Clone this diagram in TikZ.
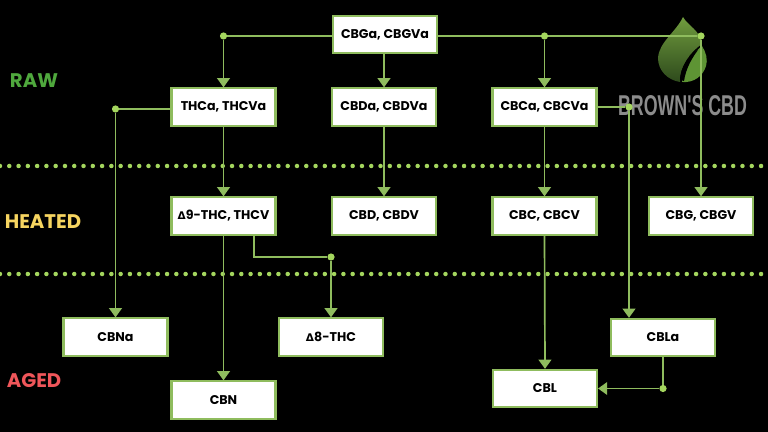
\documentclass[tikz,border=0pt]{standalone}
\usepackage{fontspec}
\setmainfont{Poppins}
\newfontfamily\deltafont{DejaVu Sans}
\newfontfamily\logofont{Liberation Sans}
\usepackage{tikz}
\usetikzlibrary{calc,positioning,arrows.meta}
\definecolor{linkgreen}{HTML}{8FBC5E}
\definecolor{dotgreen}{HTML}{A4D65E}
\definecolor{rawgreen}{HTML}{4FA83D}
\definecolor{heatyellow}{HTML}{F7D560}
\definecolor{agedred}{HTML}{F0565A}
\definecolor{leaftop}{HTML}{709C3E}
\definecolor{leafbottom}{HTML}{2E4A1C}
\definecolor{leafside}{HTML}{5E9434}
\tikzstyle{box}       = [draw=linkgreen, line width=1.5pt, fill=white, text=black, minimum width=2.6cm, minimum height=0.93cm, inner sep=0pt, font=\fontsize{9}{11}\selectfont\bfseries]
\tikzstyle{link}      = [draw=linkgreen, line width=1.2pt]
\tikzstyle{arrow}     = [link, -{Triangle[width=9pt,length=6.5pt]}]
\tikzstyle{dot}       = [circle, fill=dotgreen, inner sep=0pt, minimum size=0.18cm]
\tikzstyle{band}      = [draw=dotgreen, line width=3.2pt, line cap=round, dash pattern=on 0pt off 6.6pt]
\tikzstyle{stage}     = [font=\fontsize{14}{17}\selectfont\bfseries]
\newcommand{\dlt}{{\deltafont\fontsize{7.5}{8}\selectfont Δ}}

\begin{document}
\begin{tikzpicture}[x=0.025cm,y=-0.025cm]
	\fill[black] (0,0) rectangle (768,432);
	\useasboundingbox (0,0) rectangle (768,432);

	% logo, under the connectors
	\fill[top color=leaftop, bottom color=leafbottom]
		(683,17) .. controls (688,26) and (700,30) .. (702,44)
		.. controls (690,52) and (680,66) .. (680,82)
		.. controls (667,80) and (658,70) .. (658,58)
		.. controls (659,42) and (676,32) .. (683,17) -- cycle;
	\fill[leafside]
		(702,46) .. controls (706,52) and (708,60) .. (706,66)
		.. controls (703,76) and (694,83) .. (682,82)
		.. controls (683,66) and (692,54) .. (702,46) -- cycle;
	\fill[black] (680,80) .. controls (680,68) and (688,56) .. (698,50)
		.. controls (692,58) and (686,68) .. (684,81) -- cycle;
	\node (logotext) at (682.5,106) {\resizebox{3.22cm}{0.5cm}{\logofont\bfseries\textcolor[HTML]{8C8C8C}{BROWN'S CBD}}};

	% stage separators
	\coordinate (bandonea) at (0,166);
	\coordinate (bandoneb) at (768,166);
	\coordinate (bandtwoa) at (0,274);
	\coordinate (bandtwob) at (768,274);
	\draw[band] (bandonea) -- (bandoneb);
	\draw[band] (bandtwoa) -- (bandtwob);

	\node[stage, text=rawgreen] (raw) at (34,81) {RAW};
	\node[stage, text=heatyellow] (heated) at (43,222) {HEATED};
	\node[stage, text=agedred] (aged) at (34,381) {AGED};

	\node[box] (cbga) at (385,34.5) {CBGa, CBGVa};

	\node[box] (thca) at (223.5,107) {THCa, THCVa};
	\node[box] (cbda) at (384,107) {CBDa, CBDVa};
	\node[box] (cbca) at (544.5,107) {CBCa, CBCVa};

	\node[box] (thc) at (223.5,216) {\dlt 9-THC, THCV};
	\node[box] (cbd) at (384,216) {CBD, CBDV};
	\node[box] (cbc) at (544.5,216) {CBC, CBCV};
	\node[box] (cbg) at (701,216) {CBG, CBGV};

	\node[box] (cbna) at (115.5,337) {CBNa};
	\node[box] (delta) at (331,337) {\dlt 8-THC};
	\node[box] (cbla) at (663,337.5) {CBLa};
	\node[box] (cbn) at (223.5,400) {CBN};
	\node[box] (cbl) at (545,388.5) {CBL};

	\node[dot] (dotthc) at (223.5,36) {};
	\node[dot] (dotcbc) at (544.5,36) {};
	\node[dot] (dotcbg) at (701,36) {};
	\node[dot] (dotcbn) at (115.5,109) {};
	\node[dot] (dotcbl) at (629,107) {};
	\node[dot] (dotdelta) at (331,257) {};
	\node[dot] (dotback) at (663,388.5) {};
	\coordinate (elbow) at (254,257);
	\coordinate (thcfoot) at (254,216);

	\draw[link] (cbga.west |- dotthc) -- (dotthc);
	\draw[link] (cbga.east |- dotcbc) -- (dotcbc);
	\draw[link] (dotcbc) -- (dotcbg);
	\draw[link] (thca.west |- dotcbn) -- (dotcbn);
	\draw[link] (cbca.east) -- (dotcbl);
	\draw[link] (thcfoot |- thc.south) -- (elbow) -- (dotdelta);
	\draw[link] (cbla.south) -- (dotback);

	\draw[arrow] (dotthc) -- (thca.north);
	\draw[arrow] (cbga.south -| cbda.north) -- (cbda.north);
	\draw[arrow] (dotcbc) -- (cbca.north);
	\draw[arrow] (dotcbg) -- (cbg.north);
	\draw[arrow] (dotcbn) -- (cbna.north);
	\draw[arrow] (thca.south) -- (thc.north);
	\draw[arrow] (cbda.south) -- (cbd.north);
	\draw[arrow] (cbca.south) -- (cbc.north);
	\draw[arrow] (dotcbl) -- (dotcbl |- cbla.north);
	\draw[arrow] (thc.south) -- (cbn.north);
	\draw[arrow] (dotdelta) -- (delta.north);
	\draw[arrow] (cbc.south) -- (cbl.north);
	\draw[arrow] (dotback) -- (cbl.east);
\end{tikzpicture}
\end{document}
